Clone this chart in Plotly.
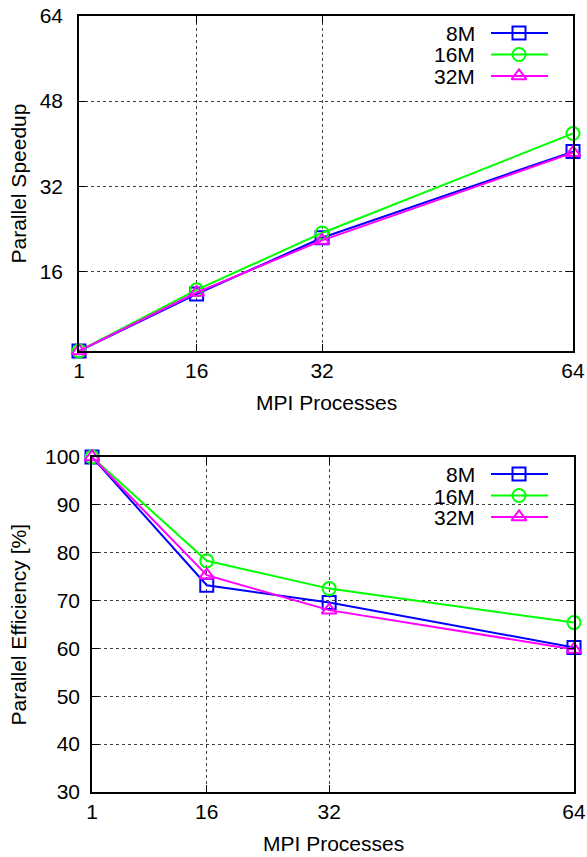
import plotly.graph_objects as go

# ---------------- data ----------------
procs = [1, 16, 32, 64]
series_names = ["8M", "16M", "32M"]
speedup_8m = [1.0, 11.7, 22.3, 38.5]
speedup_16m = [1.0, 12.5, 23.2, 41.9]
speedup_32m = [1.0, 12.0, 21.8, 38.3]
eff_8m = [100.0, 73.2, 69.6, 60.2]
eff_16m = [100.0, 78.3, 72.5, 65.4]
eff_32m = [100.0, 75.3, 68.0, 59.8]
x_ticks = [1, 16, 32, 64]
speedup_ticks = [16, 32, 48, 64]
eff_ticks = [30, 40, 50, 60, 70, 80, 90, 100]

# ---------------- style ----------------
W, H = 587, 857
colors = ["#0000ff", "#00ff00", "#ff00ff"]
symbols = ["square-open", "circle-open", "triangle-up-open"]
FONT = "Liberation Sans, Arial, Helvetica, sans-serif"
FS = 21

# plot-area pixel boxes (left, right, top, bottom)
top_box = (79, 573, 16, 351)
bot_box = (92, 574, 457, 792)


def xdom(b):
    return [b[0] / W, b[1] / W]


def ydom(b):
    return [1 - b[3] / H, 1 - b[2] / H]


fig = go.Figure()

speed = [speedup_8m, speedup_16m, speedup_32m]
eff = [eff_8m, eff_16m, eff_32m]

for i, name in enumerate(series_names):
    fig.add_trace(go.Scatter(
        x=procs, y=speed[i], mode="lines+markers", name=name,
        line=dict(color=colors[i], width=2),
        marker=dict(symbol=symbols[i], size=13, color=colors[i],
                    line=dict(width=2, color=colors[i])),
        xaxis="x", yaxis="y", cliponaxis=False, showlegend=False))
for i, name in enumerate(series_names):
    fig.add_trace(go.Scatter(
        x=procs, y=eff[i], mode="lines+markers", name=name,
        line=dict(color=colors[i], width=2),
        marker=dict(symbol=symbols[i], size=13, color=colors[i],
                    line=dict(width=2, color=colors[i])),
        xaxis="x2", yaxis="y2", cliponaxis=False, showlegend=False))

# ---------------- gnuplot-style keys ----------------
key_line_px = (491, 548)
key_marker_px = 519
key_text_px = 477
key_row_offsets = [17, 38.5, 60]   # px below plot top

annotations = []
for (box, xa, ya) in [(top_box, "x3", "y3"), (bot_box, "x4", "y4")]:
    bw = box[1] - box[0]
    bh = box[3] - box[2]
    for i, name in enumerate(series_names):
        yy = (bh - key_row_offsets[i]) / bh
        x0 = (key_line_px[0] - box[0]) / bw
        x1 = (key_line_px[1] - box[0]) / bw
        xm = (key_marker_px - box[0]) / bw
        xt = (key_text_px - box[0]) / bw
        fig.add_trace(go.Scatter(
            x=[x0, x1], y=[yy, yy], mode="lines",
            line=dict(color=colors[i], width=2),
            xaxis=xa, yaxis=ya, showlegend=False, hoverinfo="skip",
            cliponaxis=False))
        fig.add_trace(go.Scatter(
            x=[xm], y=[yy], mode="markers",
            marker=dict(symbol=symbols[i], size=13, color=colors[i],
                        line=dict(width=2, color=colors[i])),
            xaxis=xa, yaxis=ya, showlegend=False, hoverinfo="skip",
            cliponaxis=False))
        annotations.append(dict(
            x=xt, y=yy, xref=xa, yref=ya, text=name, showarrow=False,
            xanchor="right", yanchor="middle", height=20, valign="middle",
            font=dict(family=FONT, size=FS, color="black")))

# axis titles
annotations += [
    dict(x=18 / W, y=1 - ((top_box[2] + top_box[3]) / 2) / H, xref="paper", yref="paper",
         text="Parallel Speedup", textangle=-90, showarrow=False,
         xanchor="center", yanchor="middle", font=dict(family=FONT, size=FS, color="black")),
    dict(x=18 / W, y=1 - ((bot_box[2] + bot_box[3]) / 2) / H, xref="paper", yref="paper",
         text="Parallel Efficiency [%]", textangle=-90, showarrow=False,
         xanchor="center", yanchor="middle", font=dict(family=FONT, size=FS, color="black")),
    dict(x=((top_box[0] + top_box[1]) / 2) / W, y=1 - 403 / H, xref="paper", yref="paper",
         text="MPI Processes", showarrow=False,
         xanchor="center", yanchor="middle", font=dict(family=FONT, size=FS, color="black")),
    dict(x=((bot_box[0] + bot_box[1]) / 2) / W, y=1 - 843 / H, xref="paper", yref="paper",
         text="MPI Processes", showarrow=False,
         xanchor="center", yanchor="middle", font=dict(family=FONT, size=FS, color="black")),
]

common = dict(
    showline=True, linecolor="black", linewidth=1.5, mirror="ticks",
    ticks="inside", ticklen=7, tickwidth=1, tickcolor="black",
    showgrid=True, gridcolor="rgba(0,0,0,0.75)", gridwidth=1, griddash="dot",
    zeroline=False, automargin=False,
    tickfont=dict(family=FONT, size=FS, color="black"),
)
hidden = dict(range=[0, 1], visible=False, automargin=False)

fig.update_layout(
    width=W, height=H, margin=dict(l=0, r=0, t=0, b=0, autoexpand=False),
    paper_bgcolor="white", plot_bgcolor="white",
    showlegend=False,
    xaxis=dict(domain=xdom(top_box), range=[1, 64], tickvals=x_ticks,
               anchor="y", ticklabelstandoff=0, **common),
    yaxis=dict(domain=ydom(top_box), range=[1, 64], tickvals=speedup_ticks,
               anchor="x", ticklabelstandoff=10, **common),
    xaxis2=dict(domain=xdom(bot_box), range=[1, 64], tickvals=x_ticks,
                anchor="y2", ticklabelstandoff=0, **common),
    yaxis2=dict(domain=ydom(bot_box), range=[30, 100], tickvals=eff_ticks,
                anchor="x2", ticklabelstandoff=6, **common),
    xaxis3=dict(overlaying="x", **hidden),
    yaxis3=dict(overlaying="y", **hidden),
    xaxis4=dict(overlaying="x2", **hidden),
    yaxis4=dict(overlaying="y2", **hidden),
    annotations=annotations,
)

fig.write_html("out.html")
